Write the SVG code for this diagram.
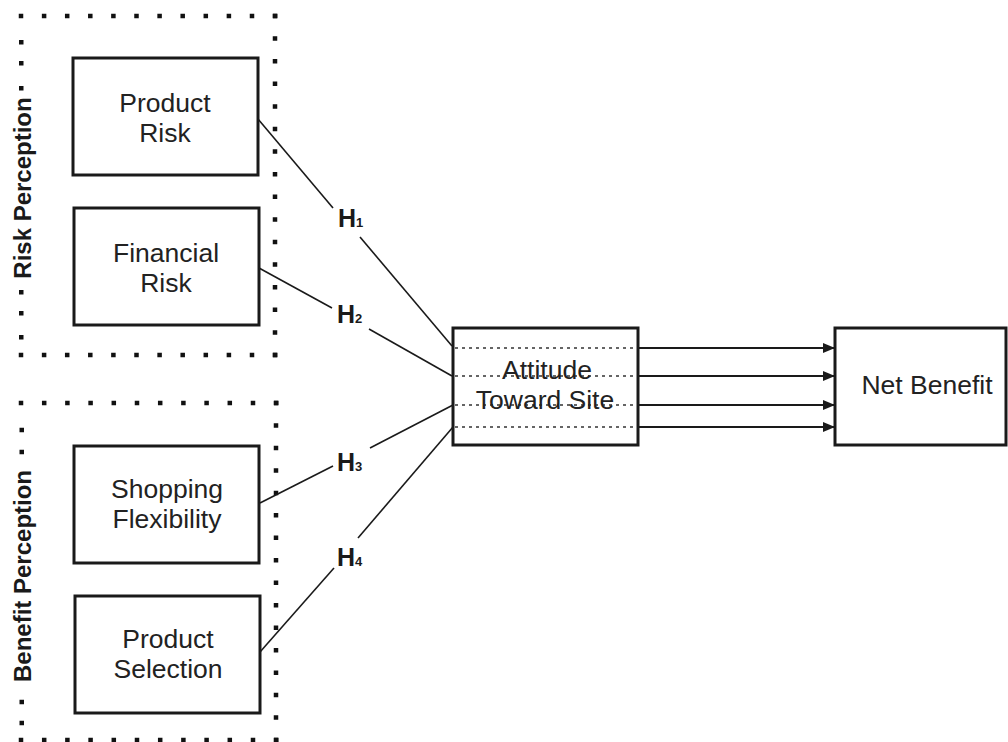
<svg xmlns="http://www.w3.org/2000/svg" width="1008" height="742" viewBox="0 0 1008 742">
<defs>
<style>
.box{fill:#fff;stroke:#1a1a1a;stroke-width:3}
.t{font-family:"Liberation Sans",Arial,sans-serif;font-size:26.5px;fill:#222;text-anchor:middle}
.grp{font-family:"Liberation Sans",Arial,sans-serif;font-size:24px;font-weight:bold;fill:#1a1a1a;text-anchor:middle}
.h{font-family:"Liberation Sans",Arial,sans-serif;font-size:25px;font-weight:bold;fill:#1a1a1a}
.sub{font-size:13px}
.dots{fill:none;stroke:#111;stroke-width:4.5}
.dot{fill:#111}
.ln{fill:none;stroke:#1a1a1a;stroke-width:1.6}
.inner{fill:none;stroke:#333;stroke-width:1.3;stroke-dasharray:3 4}
.arr{stroke:#1a1a1a;stroke-width:2}
</style>
<marker id="ah" viewBox="0 0 12 10" refX="12" refY="5" markerWidth="12" markerHeight="10" markerUnits="userSpaceOnUse" orient="auto">
<path d="M0,0 L12,5 L0,10 Z" fill="#1a1a1a"/>
</marker>
</defs>

<g id="risk-perception-group">
<path class="dots" d="M18.75,16 H280" stroke-dasharray="4.5 18.6"/>
<path class="dots" d="M18.75,355 H280" stroke-dasharray="4.5 18.6"/>
<path class="dots" d="M275,13.75 V358" stroke-dasharray="4.5 18.1"/>
<rect class="dot" x="19" y="40" width="4.5" height="4.5"/>
<rect class="dot" x="19" y="61" width="4.5" height="4.5"/>
<rect class="dot" x="19" y="86" width="4.5" height="4.5"/>
<rect class="dot" x="19" y="290" width="4.5" height="4.5"/>
<rect class="dot" x="19" y="311" width="4.5" height="4.5"/>
<rect class="dot" x="19" y="335" width="4.5" height="4.5"/>
<text class="grp" transform="translate(31,188) rotate(-90)">Risk Perception</text>
</g>

<g id="benefit-perception-group">
<path class="dots" d="M18.75,403 H280" stroke-dasharray="4.5 18.7"/>
<path class="dots" d="M18.75,740 H280" stroke-dasharray="4.5 18.7"/>
<path class="dots" d="M276,400.75 V743" stroke-dasharray="4.5 17.97"/>
<rect class="dot" x="19.5" y="427.75" width="4.5" height="4.5"/>
<rect class="dot" x="19.5" y="449.75" width="4.5" height="4.5"/>
<rect class="dot" x="19.5" y="699.75" width="4.5" height="4.5"/>
<rect class="dot" x="19.5" y="720.75" width="4.5" height="4.5"/>
<text class="grp" transform="translate(31,576) rotate(-90)">Benefit Perception</text>
</g>

<g id="product-risk">
<rect class="box" x="73" y="58" width="185" height="117"/>
<text class="t" x="165" y="112">Product</text>
<text class="t" x="165" y="142">Risk</text>
</g>

<g id="financial-risk">
<rect class="box" x="74" y="208" width="185" height="117"/>
<text class="t" x="166" y="262">Financial</text>
<text class="t" x="166" y="292">Risk</text>
</g>

<g id="shopping-flexibility">
<rect class="box" x="74" y="446" width="185" height="117"/>
<text class="t" x="167" y="498">Shopping</text>
<text class="t" x="167" y="528">Flexibility</text>
</g>

<g id="product-selection">
<rect class="box" x="75" y="596" width="185" height="117"/>
<text class="t" x="168" y="648">Product</text>
<text class="t" x="168" y="678">Selection</text>
</g>

<g id="attitude-toward-site">
<rect class="box" x="453" y="328" width="185" height="117"/>
<line class="inner" x1="455" y1="348" x2="637" y2="348"/>
<line class="inner" x1="455" y1="376" x2="637" y2="376"/>
<line class="inner" x1="455" y1="405" x2="637" y2="405"/>
<line class="inner" x1="455" y1="427" x2="637" y2="427"/>
<text class="t" x="547" y="379">Attitude</text>
<text class="t" x="545" y="409">Toward Site</text>
</g>

<g id="net-benefit">
<rect class="box" x="835" y="328" width="171" height="117"/>
<text class="t" x="927" y="394">Net Benefit</text>
</g>

<g id="connectors">
<polyline class="ln" points="258,119 333,208"/>
<polyline class="ln" points="360,237 452,346"/>
<polyline class="ln" points="259,268 332,308"/>
<polyline class="ln" points="369,329 452,376"/>
<polyline class="ln" points="260,503 333,466"/>
<polyline class="ln" points="370,448 453,405"/>
<polyline class="ln" points="260,652 334,568"/>
<polyline class="ln" points="358,538 453,427"/>
<line class="arr" x1="638" y1="348" x2="835" y2="348" marker-end="url(#ah)"/>
<line class="arr" x1="638" y1="376" x2="835" y2="376" stroke-width="1.2" marker-end="url(#ah)"/>
<line class="arr" x1="638" y1="405" x2="835" y2="405" marker-end="url(#ah)"/>
<line class="arr" x1="638" y1="427" x2="835" y2="427" marker-end="url(#ah)"/>
<text class="h" x="338" y="227">H<tspan class="sub">1</tspan></text>
<text class="h" x="337" y="323">H<tspan class="sub">2</tspan></text>
<text class="h" x="337" y="471">H<tspan class="sub">3</tspan></text>
<text class="h" x="337" y="566">H<tspan class="sub">4</tspan></text>
</g>
</svg>
